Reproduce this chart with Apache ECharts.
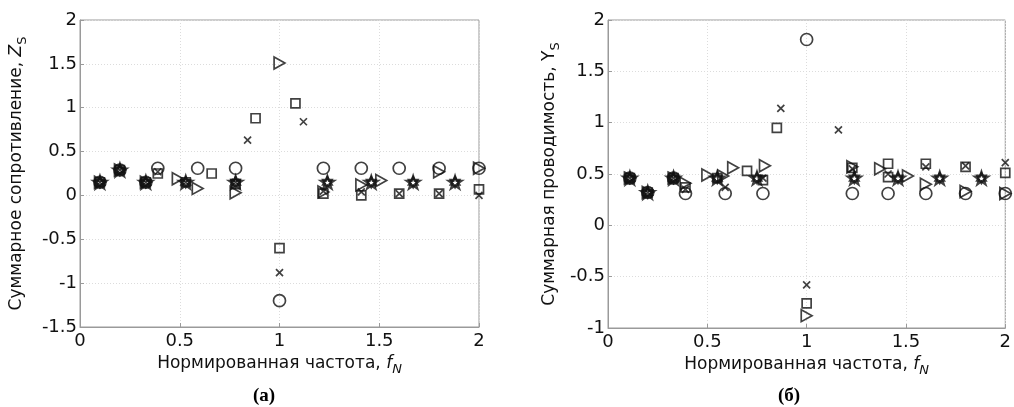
<!DOCTYPE html>
<html>
<head>
<meta charset="utf-8">
<script src="https://cdn.jsdelivr.net/npm/echarts@6/dist/echarts.min.js"></script>
<style>
html,body{margin:0;padding:0;background:#fff;}
#c{width:1014px;height:407px;}
</style>
</head>
<body>
<div id="c"></div>
<script>
// ---- Data: left panel (а), summary impedance Z_S ----
const zCircle = [[0.1,0.15],[0.2,0.29],[0.33,0.15],[0.39,0.31],[0.59,0.31],[0.78,0.31],[1.0,-1.2],[1.22,0.31],[1.41,0.31],[1.6,0.31],[1.8,0.31],[2.0,0.31]];
const zSquare = [[0.1,0.15],[0.2,0.29],[0.33,0.15],[0.39,0.25],[0.53,0.15],[0.66,0.25],[0.78,0.13],[0.88,0.88],[1.0,-0.6],[1.08,1.05],[1.22,0.02],[1.41,0.0],[1.6,0.02],[1.8,0.02],[2.0,0.07]];
const zCross = [[0.1,0.15],[0.2,0.29],[0.33,0.15],[0.39,0.27],[0.53,0.15],[0.78,0.15],[0.84,0.63],[1.0,-0.88],[1.12,0.84],[1.22,0.05],[1.41,0.04],[1.6,0.02],[1.8,0.02],[2.0,0.0]];
const zTriangle = [[0.1,0.15],[0.2,0.29],[0.33,0.15],[0.49,0.19],[0.59,0.08],[0.78,0.03],[1.0,1.51],[1.22,0.04],[1.41,0.12],[1.51,0.17],[1.8,0.27],[2.0,0.31]];
const zStar = [[0.1,0.15],[0.2,0.29],[0.33,0.15],[0.53,0.15],[0.78,0.15],[1.24,0.15],[1.46,0.15],[1.67,0.15],[1.88,0.15]];

// ---- Data: right panel (б), summary admittance Y_S ----
const yCircle = [[0.11,0.46],[0.2,0.32],[0.33,0.46],[0.39,0.31],[0.59,0.31],[0.78,0.31],[1.0,1.81],[1.23,0.31],[1.41,0.31],[1.6,0.31],[1.8,0.31],[2.0,0.31]];
const ySquare = [[0.11,0.46],[0.2,0.32],[0.33,0.46],[0.39,0.37],[0.55,0.46],[0.7,0.53],[0.78,0.44],[0.85,0.95],[1.0,-0.76],[1.23,0.56],[1.41,0.6],[1.41,0.47],[1.6,0.6],[1.8,0.57],[2.0,0.51]];
const yCross = [[0.11,0.46],[0.2,0.32],[0.33,0.46],[0.39,0.35],[0.59,0.37],[0.78,0.46],[0.87,1.14],[1.0,-0.58],[1.16,0.93],[1.23,0.55],[1.41,0.5],[1.6,0.57],[1.8,0.58],[2.0,0.61]];
const yTriangle = [[0.11,0.46],[0.2,0.32],[0.33,0.46],[0.39,0.41],[0.5,0.49],[0.58,0.48],[0.63,0.56],[0.79,0.58],[1.0,-0.88],[1.23,0.57],[1.37,0.55],[1.51,0.48],[1.6,0.4],[1.8,0.33],[2.0,0.31]];
const yStar = [[0.11,0.46],[0.2,0.32],[0.33,0.46],[0.55,0.46],[0.75,0.46],[1.24,0.46],[1.46,0.46],[1.67,0.46],[1.88,0.46]];

// ---- Axis texts ----
const xName = 'Нормированная частота, ';
const zName = 'Суммарное сопротивление, ';
const yName = 'Суммарная проводимость, ';
const captions = ['(а)', '(б)'];

const INK = '#111';
const FONT = 'DejaVu Sans, Liberation Sans, sans-serif';
const SYM = {
  circle: 'circle',
  square: 'rect',
  cross: 'path://M0,0L10,10M10,0L0,10',
  tri: 'path://M0,0L9,5L0,10Z',
  pent: 'path://M50,0L61.17,34.63L97.55,34.55L68.07,55.87L79.39,90.45L50,69L20.61,90.45L31.93,55.87L2.45,34.55L38.83,34.63Z',
  hex: 'path://M50,0L93.3,75L6.7,75ZM50,100L6.7,25L93.3,25Z'
};

function sc(idx, data, symbol, size, bw) {
  return {
    type: 'scatter', xAxisIndex: idx, yAxisIndex: idx, data: data,
    symbol: symbol, symbolSize: size, symbolKeepAspect: true,
    itemStyle: { color: 'rgba(0,0,0,0)', borderColor: INK, borderWidth: bw || 1.7 },
    emphasis: { disabled: true }, silent: true, z: 3
  };
}

const axLine = { show: true, onZero: false, lineStyle: { color: '#9a9a9a', width: 1 } };
const axTick = { show: true, inside: true, length: 4, lineStyle: { color: '#9a9a9a' } };
const split = { show: true, lineStyle: { color: '#dcdcdc', type: [1, 2], width: 1 } };

function xAx(idx) {
  return {
    type: 'value', gridIndex: idx, min: 0, max: 2, interval: 0.5,
    name: '{t|' + xName + '}{i|f}{s|N}', nameLocation: 'middle', nameGap: 25,
    nameTextStyle: { rich: {
      t: { fontFamily: FONT, fontSize: 17, color: INK },
      i: { fontFamily: FONT, fontSize: 17, color: INK, fontStyle: 'italic' },
      s: { fontFamily: FONT, fontSize: 13, color: INK, fontStyle: 'italic', padding: [11, 0, 0, 0] }
    } },
    axisLine: axLine, axisTick: axTick, splitLine: split,
    axisLabel: { color: INK, fontFamily: FONT, fontSize: 18, margin: 5 }
  };
}

function yAx(idx, min, nm, gap, italic) {
  return {
    type: 'value', gridIndex: idx, min: min, max: 2, interval: 0.5,
    name: '{t|' + nm + '}{i|' + (idx === 0 ? 'Z' : 'Y') + '}{s|S}', nameLocation: 'middle', nameGap: gap,
    nameRotate: 90,
    nameTextStyle: { rich: {
      t: { fontFamily: FONT, fontSize: 17, color: INK },
      i: { fontFamily: FONT, fontSize: 17, color: INK, fontStyle: italic ? 'italic' : 'normal' },
      s: { fontFamily: FONT, fontSize: 13, color: INK, padding: [11, 0, 0, 0] }
    } },
    axisLine: axLine, axisTick: axTick, splitLine: split,
    axisLabel: { color: INK, fontFamily: FONT, fontSize: 18, margin: 3 }
  };
}

const chart = echarts.init(document.getElementById('c'), null, { renderer: 'canvas' });
const capStyle = { fontFamily: 'Liberation Serif, Times New Roman, serif', fontWeight: 'bold', fontSize: 19, color: '#000' };
chart.setOption({
  animation: false,
  backgroundColor: '#fff',
  title: [
    { text: captions[0], left: 264, top: 387, textAlign: 'center', padding: 0, textStyle: capStyle },
    { text: captions[1], left: 789, top: 387, textAlign: 'center', padding: 0, textStyle: capStyle }
  ],
  grid: [
    { left: 80, right: 535, top: 20, bottom: 80, show: true, borderColor: '#9a9a9a', borderWidth: 1, backgroundColor: '#fff' },
    { left: 608, right: 6, top: 20, bottom: 79, show: true, borderColor: '#9a9a9a', borderWidth: 1, backgroundColor: '#fff' }
  ],
  xAxis: [xAx(0), xAx(1)],
  yAxis: [yAx(0, -1.5, zName, 51, true), yAx(1, -1, yName, 46, false)],
  series: [
    sc(0, zStar, SYM.pent, 13, 2.2),
    sc(0, zStar, SYM.hex, 11, 1.7),
    sc(0, zCircle, SYM.circle, 12),
    sc(0, zSquare, SYM.square, 9),
    sc(0, zCross, SYM.cross, 7),
    sc(0, zTriangle, SYM.tri, 12),
    sc(1, yStar, SYM.pent, 13, 2.2),
    sc(1, yStar, SYM.hex, 11, 1.7),
    sc(1, yCircle, SYM.circle, 12),
    sc(1, ySquare, SYM.square, 9),
    sc(1, yCross, SYM.cross, 7),
    sc(1, yTriangle, SYM.tri, 12)
  ]
});
</script>
</body>
</html>
